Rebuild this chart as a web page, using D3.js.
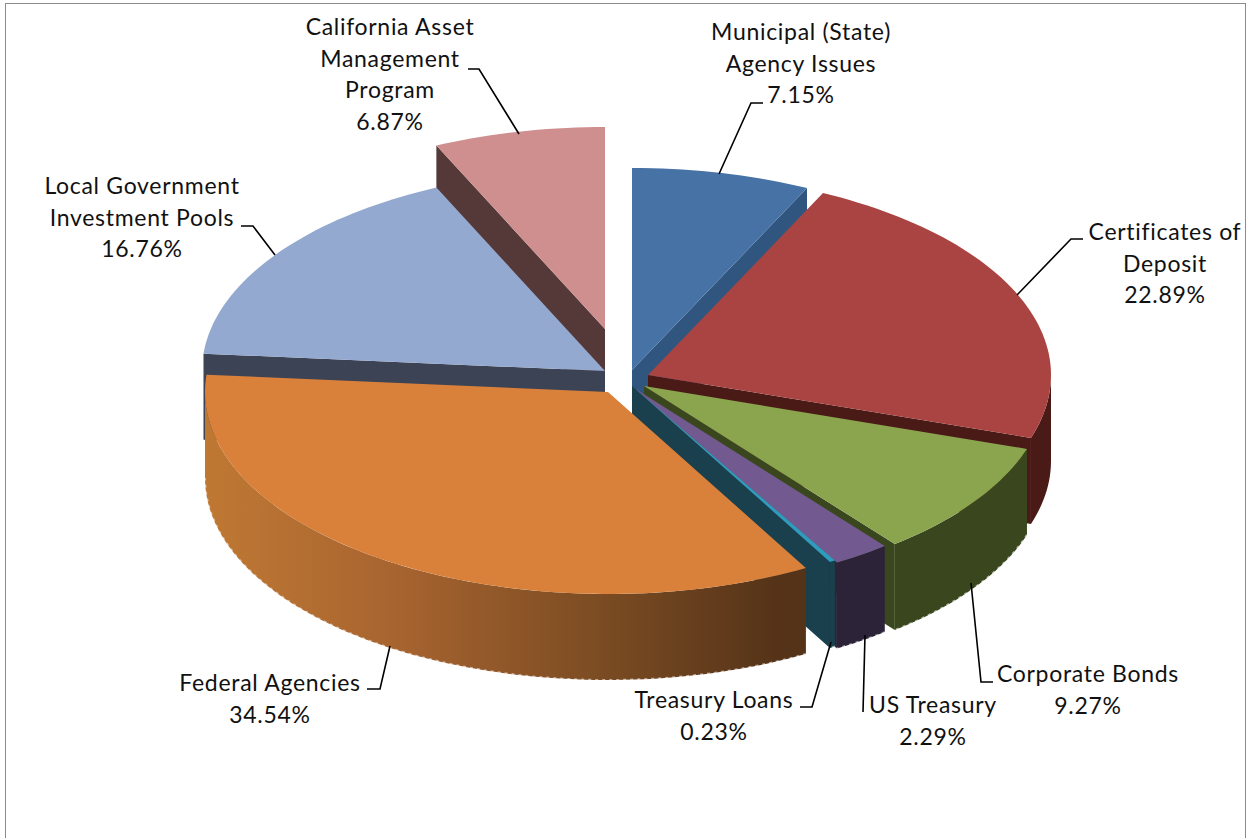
<!DOCTYPE html>
<html>
<head>
<meta charset="utf-8">
<title>Portfolio by investment type</title>
<script src="https://cdn.jsdelivr.net/npm/d3@7"></script>
<style>
  html, body { margin: 0; background: #fff; }
  svg { display: block; }
  .label { font-family: Lato, "Open Sans", sans-serif; font-size: 23px; letter-spacing: 0.7px; fill: #111; text-anchor: middle; }
  .leader { fill: none; stroke: #000; stroke-width: 1.6; }
  .fringe { fill: none; stroke: #fff; stroke-opacity: 0.55; stroke-width: 2; stroke-dasharray: 3 4; }
</style>
</head>
<body>
<svg id="chart" width="1247" height="838"></svg>
<script>
// === data ===
const categories = ["Municipal (State) Agency Issues", "Certificates of Deposit", "Corporate Bonds", "US Treasury",
  "Treasury Loans", "Federal Agencies", "Local Government Investment Pools", "California Asset Management Program"];
const percents = [7.15, 22.89, 9.27, 2.29, 0.23, 34.54, 16.76, 6.87];

// === styling per slice, same order as categories ===
const topColors = ["#4672a6", "#a94442", "#8aa54e", "#725a90", "#2f9cbd", "#d9803b", "#93a9cf", "#cf8f8e"];
const wallColors = ["#30557f", "#4a1a17", "#3a471e", "#2c2339", "#1a3f4d", "#553318", "#3c4355", "#553838"];

// where each exploded slice has its point
const sliceOrigins = [[632, 370], [648, 375], [644, 386], [634, 388], [632, 386], [608, 392], [605, 371], [605, 329]];

// back to front
const drawOrder = [7, 0, 6, 1, 2, 3, 4, 5];

// slices with the rough light edge along the bottom
const fringed = [2, 3, 4, 5];

// label text and leader lines
const labelLines = [
  ["Municipal (State)", "Agency Issues", "7.15%"],
  ["Certificates of", "Deposit", "22.89%"],
  ["Corporate Bonds", "9.27%"],
  ["US Treasury", "2.29%"],
  ["Treasury Loans", "0.23%"],
  ["Federal Agencies", "34.54%"],
  ["Local Government", "Investment Pools", "16.76%"],
  ["California Asset", "Management", "Program", "6.87%"]
];
const labelX = [801, 1165, 1088, 933, 714, 270, 142, 390];
const labelY = [40, 240, 682, 713, 708, 691, 194, 35];
const leaders = [
  [[763, 103], [751, 103], [719, 174]],
  [[1083, 239], [1071, 239], [1017, 295]],
  [[993, 682], [981, 682], [971, 583]],
  [[863, 712], [865, 635]],
  [[800, 707], [812, 707], [831, 642]],
  [[367, 689], [380, 689], [390, 646]],
  [[241, 226], [253, 226], [275, 255]],
  [[468, 69], [479, 69], [519, 134]]
];

const depth = 86;
const svg = d3.select("#chart");

// chart frame
svg.append("rect")
  .attr("x", 5.5).attr("y", 3.5)
  .attr("width", 1240).attr("height", 845)
  .attr("fill", "#fff").attr("stroke", "#8c8c8c").attr("stroke-width", 1);

// flattened circle
const xScale = d3.scaleLinear().domain([-1, 1]).range([-403, 403]);
const yScale = d3.scaleLinear().domain([-1, 1]).range([202, -202]);

const pie = d3.pie().sort(null).startAngle(0).endAngle(2 * Math.PI);
const arcs = pie(percents);

const polygon = d3.line();
const step = 0.025;

function rimPoint(origin, angle, drop = 0) {
  return [origin[0] + xScale(Math.sin(angle)), origin[1] + yScale(Math.cos(angle)) + drop];
}

function arcAngles(a0, a1) {
  const n = Math.max(1, Math.ceil((a1 - a0) / step));
  return d3.range(n + 1).map(i => a0 + (a1 - a0) * i / n);
}

// federal agencies side goes from light on the left to dark on the right
const federalStops = [[0, "#bf7833"], [0.3, "#a96530"], [0.68, "#784a22"], [0.95, "#553318"]];
const federalGradient = svg.append("defs").append("linearGradient")
  .attr("id", "federal-side")
  .attr("gradientUnits", "userSpaceOnUse")
  .attr("x1", 207).attr("x2", 807).attr("y1", 0).attr("y2", 0);
federalGradient.selectAll("stop")
  .data(federalStops)
  .enter()
  .append("stop")
  .attr("offset", d => d[0])
  .attr("stop-color", d => d[1]);

function drawWall(group, origin, angle, color) {
  const tip = rimPoint(origin, angle);
  const pts = [origin, tip, [tip[0], tip[1] + depth], [origin[0], origin[1] + depth]];
  group.append("path").attr("d", polygon(pts) + "Z").attr("fill", color);
}

drawOrder.forEach(i => {
  const d = arcs[i];
  const origin = sliceOrigins[i];
  const g = svg.append("g").attr("class", "slice").attr("data-name", categories[i]);

  if (Math.sin(d.startAngle) < 0) drawWall(g, origin, d.startAngle, wallColors[i]);
  if (Math.sin(d.endAngle) > 0) drawWall(g, origin, d.endAngle, wallColors[i]);

  // only the part of the rim that faces us
  const from = Math.max(d.startAngle, Math.PI / 2);
  const to = Math.min(d.endAngle, 3 * Math.PI / 2);
  if (to > from) {
    const angles = arcAngles(from, to);
    const upper = angles.map(a => rimPoint(origin, a));
    const lower = angles.map(a => rimPoint(origin, a, depth));
    g.append("path")
      .attr("d", polygon(upper.concat(lower.slice().reverse())) + "Z")
      .attr("fill", i === 5 ? "url(#federal-side)" : wallColors[i]);
    if (fringed.includes(i)) {
      g.append("path").attr("class", "fringe").attr("d", polygon(lower));
    }
  }

  const topPts = [origin].concat(arcAngles(d.startAngle, d.endAngle).map(a => rimPoint(origin, a)));
  g.append("path").attr("d", polygon(topPts) + "Z").attr("fill", topColors[i]);
});

// leaders
svg.selectAll(".leader")
  .data(leaders)
  .enter()
  .append("path")
  .attr("class", "leader")
  .attr("d", d => polygon(d));

// labels
svg.selectAll(".label")
  .data(labelLines)
  .enter()
  .append("text")
  .attr("class", "label")
  .attr("y", (d, i) => labelY[i])
  .each(function(lines, i) {
    d3.select(this).selectAll("tspan")
      .data(lines)
      .enter()
      .append("tspan")
      .attr("x", labelX[i])
      .attr("y", (l, k) => labelY[i] + k * 31.7)
      .text(l => l);
  });
</script>
</body>
</html>
